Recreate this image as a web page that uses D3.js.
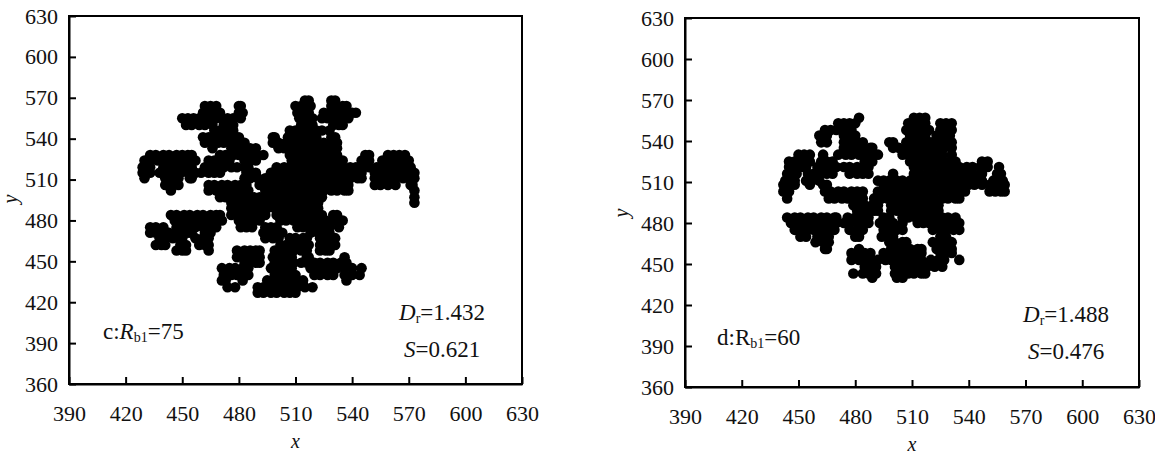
<!DOCTYPE html>
<head><style>
body { margin: 0; background: #fff; }
svg { display: block; }
text { font-family: "Liberation Serif", serif; fill: #111; }
</style></head>
<body>
    <div class="container"></div>
    <script src="https://d3js.org/d3.v7.min.js"></script>
    <script>
        var xTicks = [390, 420, 450, 480, 510, 540, 570, 600, 630];
        var yTicks = [360, 390, 420, 450, 480, 510, 540, 570, 600, 630];

        // each row: y value, then the x values of the points read along that row
        var rowsC = [
            [568, 515, 517, 529, 531],
            [564, 462, 465, 468, 480, 481, 510, 513, 516, 518, 529, 532, 535, 537],
            [559, 461, 464, 467, 470, 480, 482, 511, 514, 517, 525, 528, 531, 534, 537, 540, 542],
            [555, 450, 453, 456, 459, 462, 465, 468, 471, 474, 477, 481, 512, 515, 519, 524, 527, 530, 533, 536, 538],
            [550, 452, 455, 459, 462, 466, 472, 475, 477, 513, 516, 519, 530, 533, 535],
            [546, 467, 470, 474, 477, 507, 510, 514, 517, 521, 524, 528],
            [541, 461, 464, 468, 471, 474, 477, 480, 498, 499, 506, 509, 513, 517, 521, 529, 531],
            [537, 462, 465, 469, 472, 476, 479, 483, 498, 501, 505, 508, 512, 515, 519, 522, 525, 529, 532],
            [533, 466, 476, 479, 482, 486, 489, 501, 504, 508, 511, 515, 518, 522, 525, 529, 532],
            [528, 433, 436, 440, 443, 447, 450, 453, 455, 470, 473, 477, 480, 484, 487, 490, 493, 507, 510, 514, 517, 521, 524, 528, 532, 547, 549, 559, 562, 565, 568],
            [524, 430, 433, 437, 440, 444, 447, 451, 454, 457, 464, 467, 471, 475, 483, 486, 489, 508, 512, 515, 519, 522, 526, 529, 533, 535, 545, 549, 556, 559, 563, 566, 570],
            [519, 429, 433, 440, 443, 447, 450, 453, 455, 462, 465, 469, 472, 476, 479, 483, 485, 500, 504, 507, 511, 514, 518, 521, 525, 528, 532, 535, 539, 542, 546, 549, 553, 556, 560, 563, 567, 571],
            [515, 429, 433, 438, 442, 445, 449, 453, 457, 460, 464, 467, 470, 484, 487, 489, 497, 500, 504, 507, 511, 514, 518, 521, 525, 528, 532, 535, 539, 543, 545, 552, 556, 560, 563, 567, 570, 573],
            [511, 430, 441, 445, 448, 454, 455, 483, 486, 490, 494, 497, 500, 504, 507, 511, 514, 518, 521, 525, 528, 532, 535, 539, 543, 545, 552, 556, 560, 563, 567, 570, 573],
            [506, 441, 445, 448, 464, 467, 471, 474, 478, 481, 484, 491, 494, 497, 500, 504, 507, 511, 514, 518, 521, 525, 528, 532, 535, 538, 552, 555, 559, 563, 571, 572],
            [502, 444, 464, 468, 471, 475, 478, 482, 485, 494, 497, 501, 504, 508, 511, 515, 518, 522, 525, 529, 532, 536, 538, 573],
            [497, 470, 473, 476, 481, 484, 488, 491, 495, 498, 502, 505, 509, 512, 516, 519, 523, 524, 573],
            [493, 476, 480, 483, 487, 490, 494, 497, 501, 504, 508, 511, 515, 519, 522, 573],
            [489, 476, 480, 484, 488, 491, 495, 499, 502, 506, 509, 513, 516, 520, 522],
            [484, 444, 447, 451, 454, 458, 461, 465, 468, 470, 476, 479, 483, 486, 490, 494, 500, 503, 507, 510, 514, 517, 521, 524, 530, 532],
            [480, 446, 449, 453, 456, 460, 463, 467, 471, 480, 484, 488, 491, 502, 505, 509, 512, 516, 519, 523, 526, 530, 533, 535],
            [475, 433, 436, 440, 447, 450, 454, 457, 461, 465, 468, 481, 484, 487, 494, 497, 500, 511, 514, 518, 521, 525, 528, 533],
            [471, 433, 436, 440, 443, 447, 450, 453, 455, 462, 465, 493, 497, 500, 503, 518, 522, 525, 528],
            [467, 438, 441, 445, 448, 450, 457, 461, 464, 494, 498, 501, 507, 510, 514, 516, 523, 527, 531],
            [462, 436, 439, 441, 449, 452, 459, 462, 464, 502, 505, 509, 512, 515, 517, 523, 527, 531],
            [458, 447, 450, 452, 464, 479, 483, 486, 489, 491, 499, 502, 506, 509, 513, 516, 523, 526, 528],
            [453, 479, 483, 486, 489, 491, 498, 501, 505, 508, 516, 517, 536],
            [449, 483, 486, 489, 491, 499, 502, 506, 509, 513, 516, 520, 523, 527, 530, 534, 537],
            [445, 471, 475, 478, 482, 485, 497, 500, 504, 508, 518, 522, 525, 529, 532, 536, 540, 545],
            [440, 472, 476, 479, 482, 485, 499, 502, 506, 510, 520, 523, 527, 530, 536, 540, 544],
            [436, 471, 473, 482, 495, 499, 502, 506, 510, 514, 537],
            [431, 474, 478, 490, 493, 497, 500, 504, 507, 511, 515, 519],
            [427, 490, 493, 497, 500, 504, 507, 510]
        ];

        var rowsD = [
            [557, 482, 511, 514, 517],
            [553, 471, 474, 477, 480, 508, 511, 514, 517, 525, 528, 531],
            [548, 464, 467, 470, 473, 476, 478, 507, 510, 513, 516, 519, 525, 528, 531],
            [544, 461, 463, 465, 474, 477, 480, 509, 512, 515, 517, 523, 526, 529, 530],
            [539, 462, 465, 474, 477, 481, 484, 498, 500, 507, 510, 513, 517, 520, 524, 527, 531],
            [535, 474, 477, 481, 484, 488, 489, 500, 503, 507, 510, 513, 517, 520, 524, 527, 531],
            [530, 450, 453, 456, 463, 471, 475, 478, 482, 485, 489, 492, 505, 508, 512, 515, 519, 522, 526, 531],
            [525, 445, 448, 452, 455, 456, 462, 465, 468, 485, 488, 489, 509, 513, 516, 520, 523, 527, 530, 533, 547, 550],
            [521, 445, 448, 452, 454, 460, 463, 467, 470, 474, 477, 481, 484, 487, 511, 514, 518, 521, 525, 528, 532, 535, 539, 542, 546, 550, 556],
            [516, 444, 447, 449, 455, 458, 462, 465, 468, 477, 481, 484, 487, 500, 511, 514, 518, 521, 525, 528, 532, 535, 539, 542, 546, 547, 555, 557],
            [511, 443, 446, 448, 454, 457, 461, 492, 495, 498, 502, 505, 509, 512, 516, 519, 523, 526, 530, 533, 537, 540, 544, 547, 553, 556, 558],
            [508, 442, 445, 448, 456, 463, 465, 495, 498, 501, 505, 508, 512, 515, 519, 522, 526, 529, 533, 536, 540, 543, 547, 551, 554, 557, 559],
            [503, 442, 445, 464, 467, 471, 474, 478, 481, 484, 492, 495, 498, 501, 505, 508, 512, 515, 519, 522, 526, 529, 533, 536, 538, 551, 554, 557, 559],
            [498, 444, 466, 469, 473, 476, 480, 484, 490, 494, 497, 501, 504, 508, 511, 515, 518, 522, 526, 529, 533, 535],
            [493, 479, 482, 485, 489, 492, 499, 502, 505, 508, 512, 515, 519, 522, 524],
            [489, 481, 484, 487, 490, 492, 499, 502, 505, 508, 512, 515, 519, 522, 524],
            [484, 444, 448, 451, 455, 458, 462, 465, 469, 470, 476, 480, 483, 487, 495, 498, 505, 508, 512, 515, 519, 522, 526, 529, 533],
            [480, 446, 449, 453, 456, 460, 463, 467, 470, 474, 477, 481, 484, 487, 493, 496, 500, 505, 513, 516, 519, 522, 525, 528, 532, 535],
            [475, 448, 451, 455, 458, 462, 465, 469, 477, 481, 484, 495, 498, 502, 505, 521, 525, 528, 532, 535],
            [470, 451, 454, 460, 463, 466, 480, 482, 494, 497, 500, 525, 528],
            [466, 459, 463, 466, 498, 501, 505, 507, 521, 525, 528, 531],
            [461, 464, 465, 482, 499, 502, 506, 509, 513, 515, 523, 526, 530, 531],
            [458, 478, 481, 485, 488, 495, 498, 502, 505, 509, 512, 515, 525, 528, 531],
            [453, 478, 482, 485, 489, 492, 496, 499, 503, 506, 509, 513, 515, 520, 524, 527, 535],
            [448, 485, 488, 491, 501, 504, 508, 511, 515, 518, 522, 526],
            [443, 479, 484, 487, 491, 501, 504, 508, 511, 515, 517],
            [440, 489, 502, 505]
        ];

        var svg = d3.select('.container')
                    .append('svg')
                    .attr('width', 1155)
                    .attr('height', 456);

        function drawPanel(left, right, top, bottom, rows, yLabelX, yLabelY) {
            var xscale = d3.scaleLinear().domain([390, 630]).range([left, right]);
            var yscale = d3.scaleLinear().domain([360, 630]).range([bottom, top]);

            var points = [];
            rows.forEach(function(row) {
                row.slice(1).forEach(function(x) { points.push([x, row[0]]); });
            });

            svg.append('g').selectAll('circle')
               .data(points)
               .enter().append('circle')
               .attr('cx', function(d) { return xscale(d[0]); })
               .attr('cy', function(d) { return yscale(d[1]); })
               .attr('r', 5.3)
               .attr('fill', '#000');

            var xaxis = d3.axisBottom(xscale).tickValues(xTicks).tickSizeInner(-7).tickSizeOuter(0).tickPadding(21);
            var yaxis = d3.axisLeft(yscale).tickValues(yTicks).tickSizeInner(-7).tickSizeOuter(0).tickPadding(11);

            [svg.append('g').attr('transform', 'translate(0,' + bottom + ')').call(xaxis),
             svg.append('g').attr('transform', 'translate(' + left + ',0)').call(yaxis)].forEach(function(axis) {
                axis.selectAll('text').style('font-family', '"Liberation Serif", serif').style('font-size', '22px').attr('fill', '#111');
                axis.selectAll('line').attr('stroke', '#000').attr('stroke-width', 2);
                axis.select('.domain').attr('stroke', '#000').attr('stroke-width', 2);
            });

            svg.append('rect')
               .attr('x', left).attr('y', top)
               .attr('width', right - left).attr('height', bottom - top)
               .attr('fill', 'none').attr('stroke', '#000').attr('stroke-width', 2);

            svg.append('text')
               .attr('x', (left + right) / 2).attr('y', bottom + 64)
               .attr('text-anchor', 'middle')
               .style('font-size', '20px').style('font-style', 'italic')
               .text('x');
            svg.append('text')
               .attr('transform', 'translate(' + yLabelX + ',' + yLabelY + ') rotate(-90)')
               .attr('text-anchor', 'middle')
               .style('font-size', '20px').style('font-style', 'italic')
               .text('y');
        }

        // parts: [string, italic, subscript]
        function note(x, y, parts) {
            var t = svg.append('text').attr('x', x).attr('y', y).style('font-size', '23px');
            var lowered = false;
            parts.forEach(function(p) {
                var s = t.append('tspan').text(p[0]);
                if (p[1]) s.style('font-style', 'italic');
                if (p[2]) s.style('font-size', '14px').attr('dy', 3);
                else if (lowered) s.attr('dy', -3);
                lowered = !!p[2];
            });
        }

        drawPanel(69, 522, 16, 384, rowsC, 17, 199);
        drawPanel(685, 1139, 18, 387, rowsD, 628, 213);

        note(103, 339, [['c:'], ['R', true], ['b1', false, true], ['=75']]);
        note(399, 320, [['D', true], ['r', false, true], ['=1.432']]);
        note(404, 357, [['S', true], ['=0.621']]);
        note(717, 345, [['d:R'], ['b1', false, true], ['=60']]);
        note(1023, 322, [['D', true], ['r', false, true], ['=1.488']]);
        note(1028, 359, [['S', true], ['=0.476']]);
    </script>
</body>
